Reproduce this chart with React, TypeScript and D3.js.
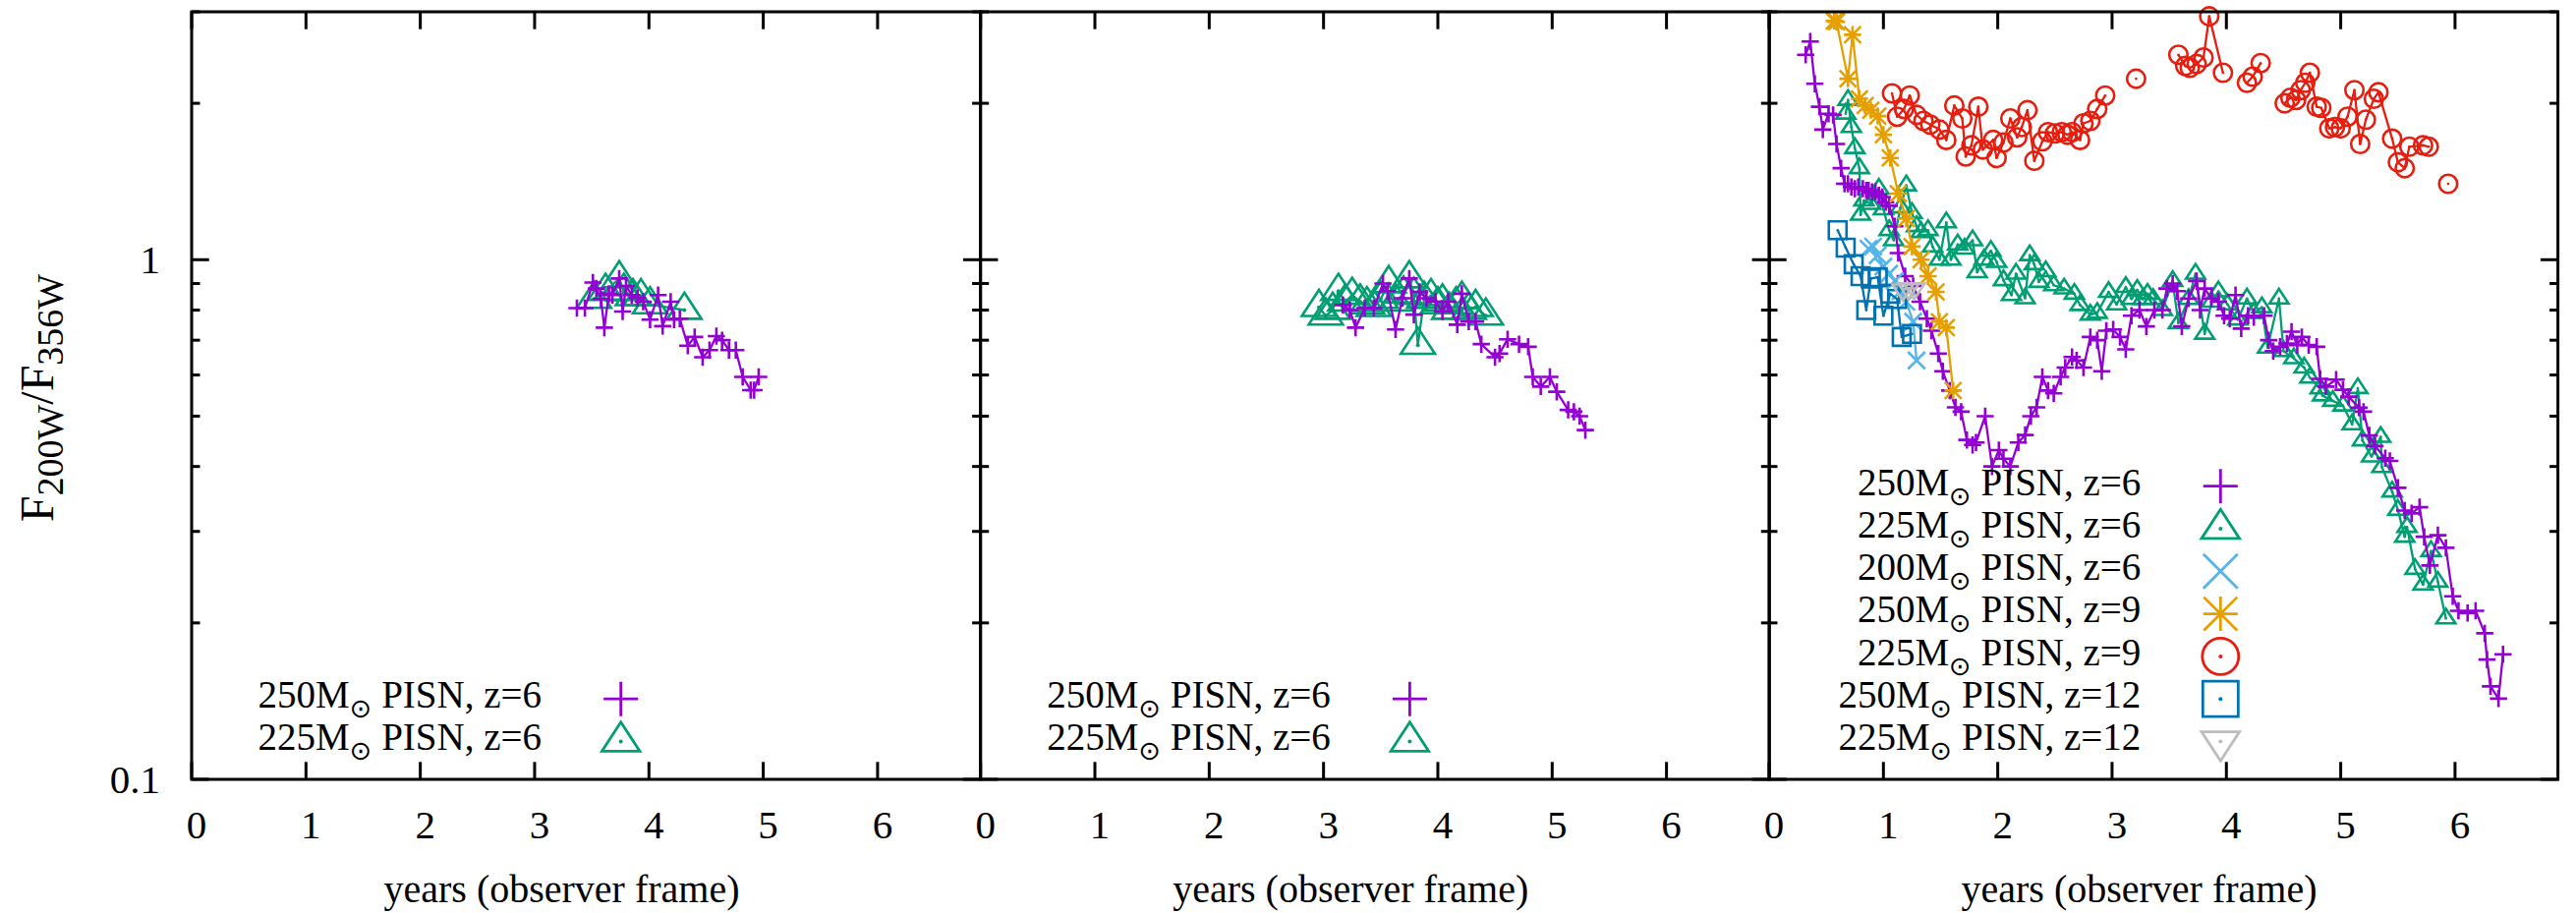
import React from "react";
import * as d3 from "d3";

type Pt = [number, number] | null;

// ---------- axis definitions ----------
const xDomain: [number, number] = [0, 6.9];
const yDomain: [number, number] = [0.1, 3];
const xTicks = [0, 1, 2, 3, 4, 5, 6];
const yMajorTicks = [0.1, 1];
const yMinorTicks = [0.2, 0.3, 0.4, 0.5, 0.6, 0.7, 0.8, 0.9, 2, 3];
const yTickLabels = ["0.1", "1"];
const xLabel = "years (observer frame)";

// ---------- series labels / colours ----------
const seriesNames = [
  ["250M", " PISN, z=6"],
  ["225M", " PISN, z=6"],
  ["200M", " PISN, z=6"],
  ["250M", " PISN, z=9"],
  ["225M", " PISN, z=9"],
  ["250M", " PISN, z=12"],
  ["225M", " PISN, z=12"],
];
const seriesColors = ["#9400D3", "#009E73", "#56B4E9", "#E69F00", "#E51E10", "#0072B2", "#BDBDBD"];
const seriesShapes = ["plus", "triangle", "cross", "star", "circle", "square", "invtriangle"];

// ---------- panel 1 (left) ----------
const left250z6: Pt[] = [
  [3.37, 0.807], [3.44, 0.807], [3.51, 0.904], [3.54, 0.88], [3.58, 0.84], [3.61, 0.74], [3.65, 0.86],
  [3.68, 0.855], [3.74, 0.92], [3.77, 0.795], [3.8, 0.89], [3.85, 0.855], [3.9, 0.845], [3.95, 0.83],
  [4.01, 0.767], [4.08, 0.855], [4.12, 0.745], [4.19, 0.83], [4.22, 0.767], [4.27, 0.77], [4.34, 0.683],
  [4.4, 0.71], [4.47, 0.649], [4.53, 0.67], [4.59, 0.713], [4.64, 0.7], [4.7, 0.67], [4.76, 0.67],
  [4.82, 0.595], [4.89, 0.561], [4.92, 0.561], [4.96, 0.595],
];
const left225z6: Pt[] = [
  [3.52, 0.84], [3.62, 0.87], [3.74, 0.92], [3.78, 0.87], [3.86, 0.85], [3.93, 0.85], [4.01, 0.82], [4.31, 0.8],
];

// ---------- panel 2 (middle) ----------
const mid250z6: Pt[] = [
  [3.17, 0.818], [3.23, 0.8], [3.28, 0.74], [3.36, 0.807], [3.44, 0.807], [3.52, 0.9], [3.56, 0.87],
  [3.63, 0.734], [3.69, 0.843], [3.75, 0.92], [3.79, 0.784], [3.84, 0.867], [3.9, 0.843], [3.98, 0.83],
  [4.04, 0.795], [4.09, 0.83], [4.17, 0.75], [4.21, 0.86], [4.27, 0.76], [4.33, 0.76], [4.38, 0.688],
  [4.5, 0.649], [4.54, 0.66], [4.61, 0.703], [4.71, 0.688], [4.79, 0.68], [4.83, 0.595], [4.9, 0.57],
  [4.98, 0.595], [5.04, 0.557], [5.14, 0.514], [5.19, 0.51], [5.24, 0.5], [5.29, 0.47],
];
const mid225z6: Pt[] = [
  [2.96, 0.81], [3.02, 0.78], [3.08, 0.8], [3.13, 0.87], [3.19, 0.83], [3.25, 0.855], [3.32, 0.83],
  [3.38, 0.82], [3.44, 0.81], [3.5, 0.84], [3.57, 0.9], [3.63, 0.83], [3.7, 0.86], [3.75, 0.92],
  [3.79, 0.855], [3.825, 0.685], [3.88, 0.84], [3.94, 0.85], [4.0, 0.82], [4.04, 0.83], [4.1, 0.8],
  [4.16, 0.82], [4.21, 0.84], [4.27, 0.8], [4.33, 0.81], [4.42, 0.78],
];

// ---------- panel 3 (right) ----------
const r250z6: Pt[] = [
  [0.32, 2.48], [0.36, 2.63], [0.4, 2.18], [0.44, 1.97], [0.47, 1.78], [0.52, 1.91], [0.56, 1.9],
  [0.59, 1.67], [0.63, 1.5], [0.66, 1.4], [0.69, 1.4], [0.72, 1.38], [0.75, 1.37], [0.78, 1.38],
  [0.82, 1.37], [0.85, 1.36], [0.87, 1.36], [0.9, 1.35], [0.93, 1.35], [0.96, 1.33], [0.99, 1.32],
  [1.02, 1.29], [1.05, 1.27], [1.1, 1.16], [1.13, 1.03], [1.19, 0.93], [1.26, 0.89], [1.32, 0.83],
  [1.38, 0.77], [1.42, 0.73], [1.48, 0.66], [1.52, 0.61], [1.58, 0.56], [1.63, 0.52], [1.68, 0.51],
  [1.73, 0.45], [1.78, 0.44], [1.81, 0.445], [1.89, 0.5], [1.95, 0.4], [2.01, 0.43], [2.05, 0.414],
  [2.11, 0.4], [2.18, 0.445], [2.24, 0.46], [2.29, 0.5], [2.34, 0.52], [2.39, 0.595], [2.44, 0.56],
  [2.49, 0.553], [2.55, 0.595], [2.59, 0.62], [2.65, 0.65], [2.69, 0.64], [2.75, 0.62], [2.81, 0.71],
  [2.87, 0.7], [2.91, 0.61], [2.95, 0.73], [3.01, 0.734], [3.07, 0.71], [3.12, 0.672], [3.17, 0.78],
  [3.24, 0.8], [3.3, 0.744], [3.37, 0.8], [3.44, 0.8], [3.48, 0.88], [3.53, 0.9], [3.57, 0.87],
  [3.61, 0.744], [3.67, 0.842], [3.74, 0.91], [3.77, 0.8], [3.81, 0.88], [3.87, 0.842], [3.93, 0.83],
  [3.98, 0.78], [4.03, 0.77], [4.08, 0.855], [4.13, 0.737], [4.19, 0.78], [4.24, 0.775], [4.33, 0.78],
  [4.37, 0.7], [4.41, 0.667], [4.47, 0.68], [4.53, 0.69], [4.57, 0.727], [4.62, 0.685], [4.66, 0.71],
  [4.72, 0.685], [4.79, 0.68], [4.82, 0.59], [4.87, 0.57], [4.96, 0.588], [5.02, 0.562], [5.07, 0.545],
  [5.16, 0.519], [5.2, 0.51], [5.25, 0.459], [5.3, 0.438], [5.39, 0.415], [5.43, 0.41], [5.5, 0.364],
  [5.56, 0.329], [5.62, 0.325], [5.69, 0.334], [5.73, 0.293], [5.78, 0.258], [5.85, 0.295], [5.92, 0.279],
  [5.98, 0.225], [6.03, 0.211], [6.11, 0.209], [6.18, 0.211], [6.26, 0.191], [6.28, 0.17], [6.31, 0.151],
  [6.38, 0.143], [6.42, 0.174],
];
const r225z6: Pt[] = [
  [0.67, 1.91], [0.69, 2.03], [0.72, 1.8], [0.75, 1.64], [0.79, 1.5], [0.8, 1.22], [0.83, 1.3],
  [0.89, 1.28], [0.96, 1.37], [1.0, 1.25], [1.05, 1.14], [1.09, 1.09], [1.15, 1.26], [1.2, 1.39],
  [1.25, 1.23], [1.29, 1.16], [1.33, 1.13], [1.39, 1.14], [1.43, 1.06], [1.49, 1.0], [1.55, 1.18],
  [1.59, 1.0], [1.65, 1.07], [1.71, 1.05], [1.78, 1.09], [1.82, 0.946], [1.88, 1.0], [1.94, 1.04],
  [1.99, 0.99], [2.05, 0.913], [2.12, 0.855], [2.16, 0.94], [2.24, 0.843], [2.28, 1.02], [2.32, 0.98],
  [2.36, 0.906], [2.42, 0.95], [2.49, 0.893], [2.58, 0.88], [2.67, 0.86], [2.72, 0.818], [2.81, 0.784],
  [2.87, 0.79], [2.97, 0.867], [3.04, 0.82], [3.12, 0.886], [3.17, 0.84], [3.22, 0.875], [3.27, 0.84],
  [3.31, 0.86], [3.36, 0.84], [3.44, 0.8], [3.53, 0.91], [3.58, 0.755], [3.67, 0.84], [3.73, 0.94],
  [3.81, 0.72], [3.87, 0.83], [3.93, 0.869], [4.01, 0.82], [4.1, 0.767], [4.18, 0.842], [4.24, 0.79],
  [4.31, 0.81], [4.36, 0.677], [4.46, 0.842], [4.5, 0.667], [4.59, 0.646], [4.68, 0.62], [4.73, 0.593],
  [4.82, 0.565], [4.84, 0.548], [4.93, 0.535], [5.02, 0.524], [5.1, 0.482], [5.15, 0.566], [5.19, 0.449],
  [5.27, 0.418], [5.35, 0.456], [5.36, 0.399], [5.45, 0.358], [5.5, 0.33], [5.56, 0.293], [5.58, 0.306],
  [5.65, 0.254], [5.72, 0.237], [5.79, 0.275], [5.85, 0.24], [5.92, 0.204],
];
const r200z6: Pt[] = [
  [0.87, 1.05], [0.91, 1.06], [0.95, 1.02], [1.0, 0.97], [1.05, 0.94], [1.1, 0.91], [1.15, 0.87],
  [1.2, 0.83], [1.26, 0.76], [1.29, 0.64],
];
const r250z9: Pt[] = [
  [0.57, 2.88], [0.59, 2.87], [0.69, 2.23], [0.73, 2.71], [0.79, 2.04], [0.84, 1.98], [0.89, 1.94],
  [0.95, 1.89], [1.0, 1.74], [1.06, 1.57], [1.13, 1.34], [1.2, 1.2], [1.25, 1.06], [1.33, 1.0],
  [1.39, 0.93], [1.46, 0.867], [1.49, 0.76], [1.55, 0.74], [1.61, 0.56],
];
const r225z9: Pt[] = [
  [1.075, 2.09], [1.12, 1.885], [1.18, 1.95], [1.23, 2.07], [1.29, 1.9], [1.35, 1.85], [1.41, 1.82],
  [1.49, 1.78], [1.55, 1.7], [1.62, 1.98], [1.69, 1.87], [1.72, 1.58], [1.77, 1.66], [1.83, 1.97],
  [1.87, 1.63], [1.96, 1.7], [1.99, 1.57], [2.05, 1.68], [2.11, 1.87], [2.17, 1.72], [2.21, 1.8],
  [2.26, 1.94], [2.32, 1.55], [2.39, 1.69], [2.44, 1.76], [2.5, 1.75], [2.56, 1.76], [2.61, 1.74],
  [2.65, 1.76], [2.72, 1.7], [2.75, 1.83], [2.81, 1.85], [2.87, 1.95], [2.94, 2.07],
  null,
  [3.21, 2.23],
  null,
  [3.58, 2.48], [3.64, 2.36], [3.68, 2.34], [3.74, 2.38], [3.8, 2.45], [3.85, 2.94], [3.97, 2.29],
  null,
  [4.18, 2.19], [4.23, 2.25], [4.3, 2.39],
  null,
  [4.51, 2.0], [4.56, 2.05], [4.61, 2.03], [4.65, 2.12], [4.69, 2.19], [4.73, 2.29], [4.79, 1.97],
  [4.83, 1.96], [4.9, 1.79], [4.95, 1.8], [5.0, 1.79], [5.06, 1.885], [5.12, 2.12], [5.17, 1.67],
  [5.22, 1.86], [5.29, 2.04], [5.33, 2.1], [5.45, 1.71], [5.5, 1.54], [5.56, 1.5], [5.6, 1.65],
  [5.72, 1.66], [5.77, 1.65],
  null,
  [5.94, 1.4],
];
const r250z12: Pt[] = [
  [0.6, 1.14], [0.67, 1.055], [0.74, 0.98], [0.8, 0.93], [0.85, 0.8], [0.89, 0.92], [0.95, 0.925],
  [1.0, 0.78], [1.06, 0.86], [1.12, 0.84], [1.16, 0.71], [1.25, 0.72],
];
const r225z12: Pt[] = [[1.17, 0.875], [1.22, 0.88], [1.27, 0.88]];

// ---------- layout ----------
const W = 2621;
const H = 929;
const TOP = 12;
const BOTTOM = 793;
const PW = 802.6;
const panelLefts = [195, 997.7, 1800];
const FONT = '"Liberation Serif", "Times New Roman", Times, "DejaVu Serif", serif';
const SERIF = { fontFamily: FONT };

function markerPath(shape: string, s: number): string {
  const p = 17.5 * s, c = 17.5 * s, q = 18 * s, tw = 19.3 * s, tt = 19.7 * s, tb = 9.9 * s;
  switch (shape) {
    case "plus":
      return `M${-p},0H${p}M0,${-p}V${p}`;
    case "cross":
      return `M${-c},${-c}L${c},${c}M${-c},${c}L${c},${-c}`;
    case "star":
      return `M${-p},0H${p}M0,${-p}V${p}M${-c * 0.97},${-c * 0.97}L${c * 0.97},${c * 0.97}M${-c * 0.97},${c * 0.97}L${c * 0.97},${-c * 0.97}`;
    case "square":
      return `M${-q},${-q}H${q}V${q}H${-q}Z`;
    case "triangle":
      return `M0,${-tt}L${tw},${tb}L${-tw},${tb}Z`;
    case "invtriangle":
      return `M0,${tt}L${tw},${-tb}L${-tw},${-tb}Z`;
    default:
      return "";
  }
}

function Marker({ shape, color, s, x, y, sw }: { shape: string; color: string; s: number; x: number; y: number; sw: number }) {
  const dotted = shape === "circle" || shape === "square" || shape === "triangle" || shape === "invtriangle";
  return (
    <g transform={`translate(${x},${y})`}>
      {shape === "circle" ? (
        <circle r={18.5 * s} fill="none" stroke={color} strokeWidth={sw} />
      ) : (
        <path d={markerPath(shape, s)} fill="none" stroke={color} strokeWidth={sw} strokeLinejoin="miter" />
      )}
      {dotted && <circle r={s > 0.7 ? 2 : 1.3} fill={color} />}
    </g>
  );
}

type SeriesSpec = { data: Pt[]; idx: number; size: number };

function Series({ spec, xs, ys }: { spec: SeriesSpec; xs: d3.ScaleLinear<number, number>; ys: d3.ScaleLogarithmic<number, number> }) {
  const color = seriesColors[spec.idx];
  const line = d3
    .line<Pt>()
    .defined((d) => d !== null)
    .x((d) => xs((d as [number, number])[0]))
    .y((d) => ys((d as [number, number])[1]));
  const pts = spec.data.filter((d) => d !== null) as [number, number][];
  return (
    <g>
      <path d={line(spec.data) || ""} fill="none" stroke={color} strokeWidth={2.3} strokeLinejoin="round" />
      {pts.map((d, i) => (
        <Marker key={i} shape={seriesShapes[spec.idx]} color={color} s={spec.size} x={xs(d[0])} y={ys(d[1])} sw={2.6} />
      ))}
    </g>
  );
}

const panels: { series: SeriesSpec[]; legend: number[]; textEnd: number; symX: number }[] = [
  {
    series: [
      { data: left225z6, idx: 1, size: 0.9 },
      { data: left250z6, idx: 0, size: 0.5 },
    ],
    legend: [0, 1],
    textEnd: 356,
    symX: 436.7,
  },
  {
    series: [
      { data: mid225z6, idx: 1, size: 0.9 },
      { data: mid250z6, idx: 0, size: 0.5 },
    ],
    legend: [0, 1],
    textEnd: 356,
    symX: 436.7,
  },
  {
    series: [
      { data: r225z6, idx: 1, size: 0.5 },
      { data: r250z6, idx: 0, size: 0.5 },
      { data: r200z6, idx: 2, size: 0.5 },
      { data: r250z9, idx: 3, size: 0.5 },
      { data: r225z9, idx: 4, size: 0.5 },
      { data: r250z12, idx: 5, size: 0.5 },
      { data: r225z12, idx: 6, size: 0.55 },
    ],
    legend: [0, 1, 2, 3, 4, 5, 6],
    textEnd: 378.3,
    symX: 459.3,
  },
];

function Panel({ p, left, first }: { p: (typeof panels)[number]; left: number; first: boolean }) {
  const xs = d3.scaleLinear().domain(xDomain).range([left, left + PW]);
  const ys = d3.scaleLog().domain(yDomain).range([BOTTOM, TOP]);
  const right = left + PW;
  const MAJ = 17.7;
  const MIN = 8.5;
  const rowGap = 43.3;
  const lastRow = 754.5;
  const n = p.legend.length;
  return (
    <g>
      {xTicks.map((t) => (
        <g key={"xt" + t}>
          <line x1={xs(t)} x2={xs(t)} y1={BOTTOM} y2={BOTTOM - MAJ} stroke="#000" strokeWidth={3} />
          <line x1={xs(t)} x2={xs(t)} y1={TOP} y2={TOP + MAJ} stroke="#000" strokeWidth={3} />
          <text x={xs(t) + 5} y={853} style={SERIF} fontSize={41} textAnchor="middle">
            {String(t)}
          </text>
        </g>
      ))}
      {yMajorTicks.map((t, i) => (
        <g key={"ym" + t}>
          <line x1={left} x2={left + MAJ} y1={ys(t)} y2={ys(t)} stroke="#000" strokeWidth={3} />
          <line x1={right} x2={right - MAJ} y1={ys(t)} y2={ys(t)} stroke="#000" strokeWidth={3} />
          {first && (
            <text x={163} y={ys(t) + 14} style={SERIF} fontSize={41} textAnchor="end">
              {yTickLabels[i]}
            </text>
          )}
        </g>
      ))}
      {yMinorTicks.map((t) => (
        <g key={"yn" + t}>
          <line x1={left} x2={left + MIN} y1={ys(t)} y2={ys(t)} stroke="#000" strokeWidth={3} />
          <line x1={right} x2={right - MIN} y1={ys(t)} y2={ys(t)} stroke="#000" strokeWidth={3} />
        </g>
      ))}
      {p.series.map((s, i) => (
        <Series key={i} spec={s} xs={xs} ys={ys} />
      ))}
      {p.legend.map((idx, r) => {
        const cy = lastRow - (n - 1 - r) * rowGap;
        return (
          <g key={"lg" + idx}>
            <text x={left + p.textEnd} y={cy + 8.8} style={SERIF} fontSize={39} textAnchor="end">
              {seriesNames[idx][0]}
              <tspan style={{ fontFamily: '"DejaVu Sans", sans-serif' }} fontSize={27} dy={10}>
                {"\u2299"}
              </tspan>
              <tspan dy={-10}>{seriesNames[idx][1]}</tspan>
            </text>
            <Marker shape={seriesShapes[idx]} color={seriesColors[idx]} s={1} x={left + p.symX} y={cy} sw={2.8} />
          </g>
        );
      })}
      <rect x={left} y={TOP} width={PW} height={BOTTOM - TOP} fill="none" stroke="#000" strokeWidth={3} />
      <text x={left + 376.5} y={918} style={SERIF} fontSize={40} textAnchor="middle">
        {xLabel}
      </text>
    </g>
  );
}

export default function App() {
  return (
    <svg width={W} height={H} viewBox={`0 0 ${W} ${H}`} style={{ position: "absolute", left: 0, top: 0, background: "#fff" }}>
      <rect x={0} y={0} width={W} height={H} fill="#fff" />
      {panels.map((p, i) => (
        <Panel key={i} p={p} left={panelLefts[i]} first={i === 0} />
      ))}
      <text transform="translate(54,405) rotate(-90)" style={SERIF} fontSize={48} textAnchor="middle">
        F
        <tspan fontSize={38} dy={10}>200W</tspan>
        <tspan dy={-10}>/F</tspan>
        <tspan fontSize={38} dy={10}>356W</tspan>
      </text>
    </svg>
  );
}
